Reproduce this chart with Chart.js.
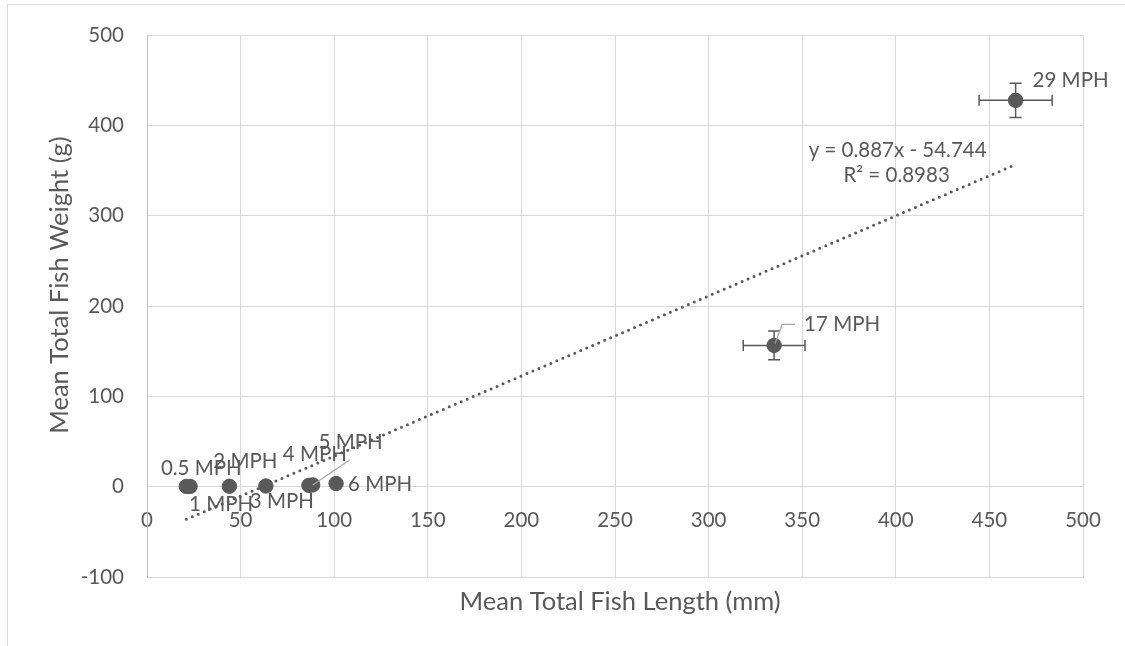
<!DOCTYPE html>
<html>
<head>
<meta charset="utf-8">
<title>Mean Total Fish Weight vs Length</title>
<script src="https://cdn.jsdelivr.net/npm/chart.js@4.4.1/dist/chart.umd.min.js"></script>
<style>
  html, body { margin: 0; padding: 0; background: #ffffff; overflow: hidden; }
  #wrap { position: relative; width: 1125px; height: 646px; overflow: hidden; }
  #frame { position: absolute; left: 7px; top: 4px; width: 1300px; height: 800px;
           border: 1px solid #d9d9d9; box-sizing: border-box; }
  #c { position: absolute; left: 0; top: 0; }
</style>
</head>
<body>
<div id="wrap">
  <div id="frame"></div>
  <canvas id="c" width="1125" height="646"></canvas>
</div>
<script>
// ---- data -------------------------------------------------------------
const speedLabels = ['0.5 MPH', '1 MPH', '2 MPH', '3 MPH', '4 MPH', '5 MPH', '6 MPH', '17 MPH', '29 MPH'];
const meanLength  = [21, 23, 44, 63.5, 86.5, 88.5, 101, 335, 464];      // mm
const meanWeight  = [0.3, 0.3, 0.5, 0.8, 1.5, 2, 3.5, 156.5, 428];      // g
const lengthError = [null, null, null, null, null, null, null, 16.5, 19.5];
const weightError = [null, null, null, null, null, null, null, 16, 19];

const trendSlope = 0.887;
const trendIntercept = -54.744;
const trendR2 = 0.8983;

const xTicks = [0, 50, 100, 150, 200, 250, 300, 350, 400, 450, 500];
const yTicks = [-100, 0, 100, 200, 300, 400, 500];

const xTitle = 'Mean Total Fish Length (mm)';
const yTitle = 'Mean Total Fish Weight (g)';

// ---- styling ----------------------------------------------------------
const TEXT = '#595959';
const MARK = '#595959';
const GRID = '#d9d9d9';
const FONT = 'Lato';
const LABEL_SIZE = 20.5;
const TICK_SIZE = 20.5;
const TITLE_SIZE = 25.5;

// label placement relative to each point (pixels): [dx, dy]
const labelOffsets = [[15, -18], [31, 18], [16, -25], [16, 15], [6, -31], [38, -43], [44, 1], [68, -21], [55, -20]];
// leader lines for labels that were pulled away from their point
const leaders = {
  5: [[37, -25], [0, 0]],
  7: [[21, -21], [8, -21], [1, -2]]
};

// ---- points & trend line ---------------------------------------------
const points = meanLength.map((x, i) => ({ x: x, y: meanWeight[i] }));
const xMin = Math.min(...meanLength), xMax = Math.max(...meanLength);
const trendPoints = [xMin, xMax].map(x => ({ x: x, y: trendSlope * x + trendIntercept }));

// error bars, drawn with the scales after the datasets
const errorBars = {
  id: 'errorBars',
  afterDatasetsDraw(chart) {
    const { ctx, scales: { x, y } } = chart;
    ctx.save();
    ctx.strokeStyle = MARK;
    ctx.lineWidth = 1.5;
    points.forEach((p, i) => {
      const px = x.getPixelForValue(p.x), py = y.getPixelForValue(p.y);
      if (lengthError[i] != null) {
        const l = x.getPixelForValue(p.x - lengthError[i]);
        const r = x.getPixelForValue(p.x + lengthError[i]);
        ctx.beginPath();
        ctx.moveTo(l, py); ctx.lineTo(r, py);
        ctx.moveTo(l, py - 5.5); ctx.lineTo(l, py + 5.5);
        ctx.moveTo(r, py - 5.5); ctx.lineTo(r, py + 5.5);
        ctx.stroke();
      }
      if (weightError[i] != null) {
        const t = y.getPixelForValue(p.y + weightError[i]);
        const b = y.getPixelForValue(p.y - weightError[i]);
        ctx.beginPath();
        ctx.moveTo(px, t); ctx.lineTo(px, b);
        ctx.moveTo(px - 6, t); ctx.lineTo(px + 6, t);
        ctx.moveTo(px - 6, b); ctx.lineTo(px + 6, b);
        ctx.stroke();
      }
    });
    ctx.restore();
  }
};

// data labels, leader lines and the trend-line equation
const pointLabels = {
  id: 'pointLabels',
  afterDatasetsDraw(chart) {
    const { ctx, scales: { x, y } } = chart;
    ctx.save();
    ctx.strokeStyle = '#a6a6a6';
    ctx.lineWidth = 1.2;
    Object.keys(leaders).forEach(k => {
      const i = +k;
      const px = x.getPixelForValue(points[i].x), py = y.getPixelForValue(points[i].y);
      ctx.beginPath();
      leaders[k].forEach(([dx, dy], j) => {
        if (j === 0) ctx.moveTo(px + dx, py + dy); else ctx.lineTo(px + dx, py + dy);
      });
      ctx.stroke();
    });
    ctx.fillStyle = TEXT;
    ctx.font = LABEL_SIZE + 'px ' + FONT;
    ctx.textAlign = 'center';
    ctx.textBaseline = 'middle';
    speedLabels.forEach((txt, i) => {
      const px = x.getPixelForValue(points[i].x), py = y.getPixelForValue(points[i].y);
      const [dx, dy] = labelOffsets[i];
      ctx.fillText(txt, px + dx, py + dy);
    });
    const ex = x.getPixelForValue(trendPoints[1].x), ey = y.getPixelForValue(trendPoints[1].y);
    const sign = trendIntercept < 0 ? '-' : '+';
    ctx.fillText('y = ' + trendSlope + 'x ' + sign + ' ' + Math.abs(trendIntercept), ex - 118, ey - 14);
    ctx.fillText('R\u00B2 = ' + trendR2, ex - 119, ey + 11);
    ctx.restore();
  }
};

// axis titles
const axisTitles = {
  id: 'axisTitles',
  afterDraw(chart) {
    const { ctx, chartArea: a } = chart;
    ctx.save();
    ctx.fillStyle = TEXT;
    ctx.font = TITLE_SIZE + 'px ' + FONT;
    ctx.textAlign = 'center';
    ctx.textBaseline = 'middle';
    ctx.fillText(xTitle, (a.left + a.right) / 2 + 5, a.bottom + 25);
    ctx.translate(a.left - 87, (a.top + a.bottom) / 2 - 21);
    ctx.rotate(-Math.PI / 2);
    ctx.fillText(yTitle, 0, 0);
    ctx.restore();
  }
};

new Chart(document.getElementById('c'), {
  type: 'scatter',
  data: {
    datasets: [
      {
        label: 'Trend',
        data: trendPoints,
        showLine: true,
        borderColor: MARK,
        borderWidth: 3,
        borderDash: [0, 6.5],
        borderCapStyle: 'round',
        pointRadius: 0,
        order: 2
      },
      {
        label: 'Mean',
        data: points,
        backgroundColor: MARK,
        borderColor: MARK,
        borderWidth: 1,
        pointRadius: 7.2,
        order: 1
      }
    ]
  },
  options: {
    responsive: false,
    animation: false,
    devicePixelRatio: 1,
    layout: { padding: { left: 0, top: 31, right: 42, bottom: 0 } },
    plugins: { legend: { display: false }, tooltip: { enabled: false } },
    scales: {
      x: {
        type: 'linear',
        position: 'bottom',
        min: 0, max: 500,
        afterBuildTicks: s => { s.ticks = xTicks.map(v => ({ value: v })); },
        afterFit: s => { s.height = 69; },
        grid: { color: GRID, lineWidth: 1, drawTicks: false },
        border: { color: GRID },
        ticks: { display: false }
      },
      xAxisLine: {
        axis: 'x',
        type: 'linear',
        position: { y: 0 },
        min: 0, max: 500,
        afterBuildTicks: s => { s.ticks = xTicks.map(v => ({ value: v })); },
        grid: { display: false, drawTicks: false },
        border: { display: true, color: GRID },
        ticks: { color: TEXT, font: { family: FONT, size: TICK_SIZE }, padding: 21, maxRotation: 0 }
      },
      y: {
        type: 'linear',
        min: -100, max: 500,
        afterBuildTicks: s => { s.ticks = yTicks.map(v => ({ value: v })); },
        afterFit: s => { s.width = 147; },
        grid: { color: GRID, lineWidth: 1, drawTicks: false },
        border: { color: '#bfbfbf' },
        ticks: { color: TEXT, font: { family: FONT, size: TICK_SIZE }, padding: 23 }
      }
    }
  },
  plugins: [errorBars, pointLabels, axisTitles]
});
</script>
</body>
</html>
